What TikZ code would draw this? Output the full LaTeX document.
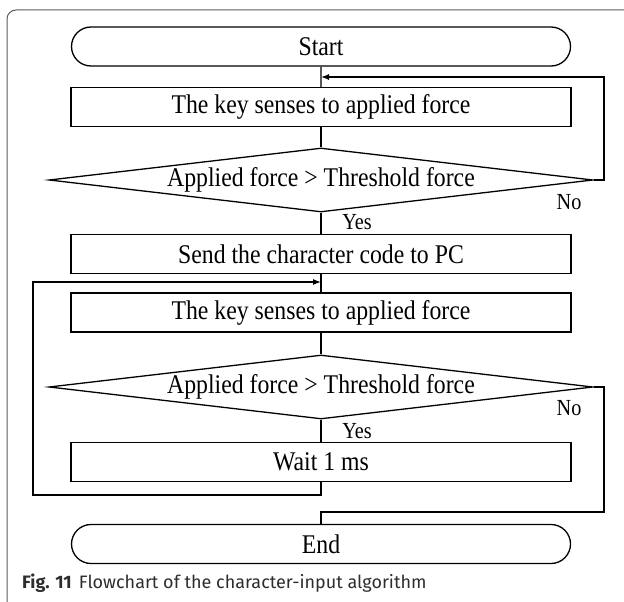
\documentclass[tikz,border=0pt]{standalone}
\usepackage{fontspec}
\setmainfont[FakeStretch=0.88]{Liberation Serif}
\newfontfamily\capfont{Fira Sans}
\usetikzlibrary{shapes.geometric,shapes.misc,arrows.meta}
\definecolor{framegray}{RGB}{90,90,90}
\definecolor{captext}{RGB}{45,45,45}
\tikzset{
  flowline/.style={black, line width=1.3pt},
  boxfont/.style={font=\fontsize{27}{30}\selectfont},
  terminal/.style={rounded rectangle, draw, flowline, boxfont, minimum width=499pt, minimum height=39pt, inner sep=0pt},
  process/.style={rectangle, draw, flowline, boxfont, minimum width=500pt, minimum height=39pt, inner sep=0pt},
  decision/.style={diamond, draw, flowline, boxfont, aspect=8.5, minimum width=544pt, minimum height=64pt, inner sep=0pt},
  answer/.style={font=\fontsize{23}{26}\selectfont, inner sep=0pt},
  backarrow/.style={flowline, -{Latex[length=8pt,width=6pt]}}
}

\begin{document}
\begin{tikzpicture}[x=1pt, y=-1pt]
  \useasboundingbox (0,0) rectangle (624,602);
  % frame of the figure
  \draw[framegray, line width=1pt, rounded corners=9pt] (7,602) -- (7,10) -- (624,10);

  \node[terminal] (start) at (321,46.5) {Start};
  \node[process]  (key1)  at (321,107) {The key senses to applied force};
  \node[decision] (dec1)  at (321,180) {Applied force > Threshold force};
  \node[process]  (send)  at (321,254) {Send the character code to PC};
  \node[process]  (key2)  at (321,312.5) {The key senses to applied force};
  \node[decision] (dec2)  at (321,387) {Applied force > Threshold force};
  \node[process]  (wait)  at (321,462) {Wait 1 ms};
  \node[terminal] (end)   at (321,544) {End};

  \node[answer] (yes1) at (357,222) {Yes};
  \node[answer] (no1)  at (569,202) {No};
  \node[answer] (yes2) at (357,431) {Yes};
  \node[answer] (no2)  at (569,408) {No};

  \coordinate (in1) at (321,77);
  \coordinate (in2) at (321,282);
  \coordinate (lft) at (33,495);
  \coordinate (rgt) at (604,512);

  \draw[flowline] (start) -- (key1);
  \draw[flowline] (key1) -- (dec1);
  \draw[flowline] (dec1) -- (send);
  \draw[flowline] (send) -- (key2);
  \draw[flowline] (key2) -- (dec2);
  \draw[flowline] (dec2) -- (wait);

  % loops back
  \draw[backarrow] (dec1.east) -- (604,180) |- (in1);
  \draw[backarrow] (wait.south) |- (lft) |- (in2);
  \draw[flowline] (dec2.east) -| (rgt) -| (end.north);

  \node[anchor=west, text=captext, font=\capfont\fontsize{18}{21}\selectfont, inner sep=0pt] (cap) at (22,583)
    {\textbf{Fig. 11}\hspace{7pt}Flowchart of the character-input algorithm};
\end{tikzpicture}
\end{document}
